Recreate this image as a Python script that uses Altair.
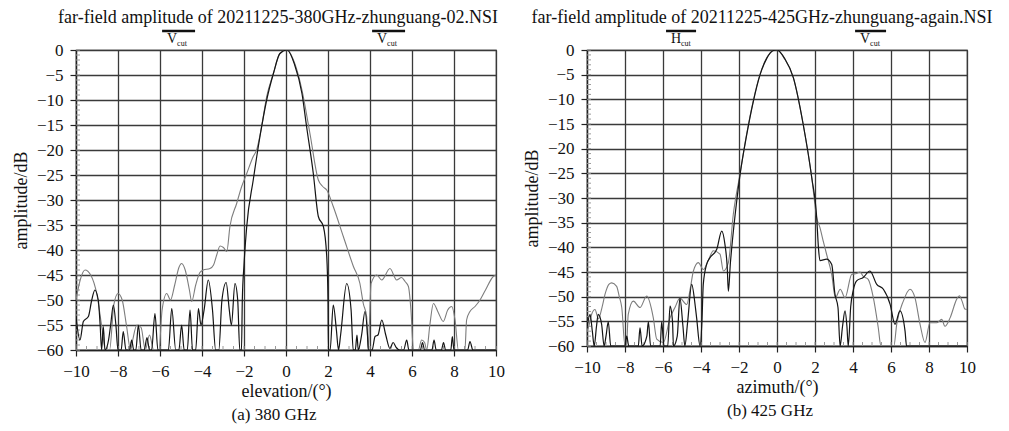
import altair as alt
import pandas as pd

FONT = "Liberation Serif"

# ---------------- panel (a) 380 GHz ----------------
a_gray_x = [-10.0, -9.8, -9.57, -9.3, -9.0, -8.75, -8.6, -8.4, -8.2, -8.0, -7.8, -7.6, -7.4,
            -7.3, -7.1, -6.9, -6.7, -6.5, -6.3, -6.05, -5.9, -5.68, -5.5, -5.3, -5.1, -4.97,
            -4.8, -4.6, -4.49, -4.3, -4.1, -3.94, -3.62, -3.45, -3.3, -3.14, -2.98, -2.82,
            -2.67, -2.35, -2.11, -1.87, -1.56, -1.4, -1.16, -0.92, -0.6, -0.29, 0.05, 0.4,
            0.76, 1.14, 1.54, 1.75, 1.94, 2.25, 2.73, 3.21, 3.52, 3.68, 3.84, 3.92, 3.97,
            4.05, 4.32, 4.56, 4.95, 5.27, 5.5, 5.67, 5.83, 5.95, 6.07, 6.3, 6.46, 6.6, 6.7,
            6.85, 7.02, 7.25, 7.49, 7.7, 7.89, 8.05, 8.21, 8.52, 8.6, 8.76, 9.0, 9.24, 9.5,
            9.87, 10.0]
a_gray_y = [-50, -46, -44, -45, -49, -56, -60, -60, -51, -48.7, -50, -55, -60,
            -58, -55, -55.5, -60, -57, -60, -60, -52, -48.7, -50, -47, -43.5, -42.7,
            -44, -48, -50.3, -47, -44.5, -44, -43.7, -43, -41, -39.2, -39.5, -40.3,
            -35.3, -30.7, -27.3, -24.7, -21.3, -20, -15.3, -9.3, -4.7, -0.7, 0, -2.5,
            -8, -16.7, -26, -27.3, -28, -31.3, -37.3, -43.3, -46.7, -50.7, -53.3, -60, -55,
            -46.7, -45, -46, -43.7, -46, -45.5, -46.3, -47.3, -52, -60, -60, -58, -58.5, -60,
            -55, -50.7, -52.5, -54.3, -52, -51.3, -54, -60, -60, -54, -52.3, -51.3, -50, -48,
            -45.3, -45]

a_black_x = [-10.0, -9.81, -9.65, -9.41, -9.25, -9.1, -8.94, -8.85, -8.78, -8.7, -8.62, -8.45,
             -8.35, -8.22, -8.1, -8.0, -7.85, -7.75, -7.62, -7.45, -7.35, -7.25, -7.15, -7.03,
             -6.9, -6.75, -6.62, -6.5, -6.4, -6.24, -6.1, -5.6, -5.44, -5.25, -5.1, -4.97,
             -4.85, -4.7, -4.57, -4.45, -4.3, -4.17, -4.05, -3.9, -3.7, -3.5, -3.35, -3.2,
             -3.05, -2.85, -2.7, -2.6, -2.43, -2.3, -2.2, -2.12, -2.08, -2.0, -1.87, -1.56,
             -1.24, -0.92, -0.6, -0.29, 0.05, 0.4, 0.76, 0.98, 1.3, 1.54, 1.78, 1.94, 2.0,
             2.02, 2.1, 2.25, 2.4, 2.5, 2.6, 2.89, 3.1, 3.2, 3.3, 3.38, 3.44, 3.6, 3.76, 3.88,
             3.92, 4.1, 4.24, 4.38, 4.56, 4.75, 4.95, 5.1, 5.25, 5.4, 5.6, 5.75, 5.85, 6.4,
             6.5, 6.6, 6.95, 7.05, 7.15, 7.4, 7.5, 7.6, 7.85, 7.92, 8.0, 8.65, 8.76, 8.9, 10.0]
a_black_y = [-53.3, -58, -54.3, -53.3, -50, -48, -50, -55, -60, -55.3, -60, -58,
             -55, -51, -55, -60, -60, -56.3, -60, -60, -58, -60, -60, -55,
             -60, -60, -57.5, -60, -60, -52.7, -60, -60, -51.7, -60, -60, -55,
             -60, -60, -52, -60, -60, -51.7, -55, -52, -46, -52, -60, -60,
             -50, -46.5, -52, -55, -46.7, -50, -60, -60, -50, -43, -35.3, -26,
             -17.3, -10, -4.7, -0.7, 0, -2.8, -8.7, -15.3, -24.7, -33.3, -35.3, -41.3, -50,
             -60, -60, -51, -56, -60, -57, -46.7, -52, -60, -60, -57, -60, -57, -52.3, -57,
             -60, -60, -57.3, -57, -54, -57, -59.7, -58.5, -59.5, -60, -60, -58, -60, -60,
             -58.5, -60, -60, -58, -60, -60, -58.5, -60, -60, -57.3, -60, -60, -58.3, -60, -60]

# ---------------- panel (b) 425 GHz ----------------
b_gray_x = [-10.0, -9.93, -9.75, -9.58, -9.4, -9.2, -9.05, -8.85, -8.7, -8.44, -8.3, -8.17,
            -8.0, -7.92, -7.83, -7.56, -7.21, -6.86, -6.51, -6.33, -5.98, -5.63, -5.37, -5.11,
            -4.75, -4.55, -4.4, -4.14, -3.88, -3.61, -3.35, -3.0, -2.82, -2.56, -2.3, -1.95,
            -1.6, -1.25, -0.89, -0.54, -0.19, 0.0, 0.4, 0.86, 1.38, 1.83, 2.09, 2.26, 2.45,
            2.61, 2.88, 3.07, 3.33, 3.58, 3.93, 4.19, 4.37, 4.54, 4.8, 5.07, 5.33, 5.47, 6.15,
            6.3, 6.65, 7.0, 7.26, 7.53, 7.79, 8.05, 8.4, 8.67, 8.84, 9.11, 9.46, 9.6, 9.75,
            9.89, 10.0]
b_gray_y = [-57, -56.3, -53.5, -52.6, -54.5, -52, -49.5, -47.5, -47.2, -47.9, -50, -52.2,
            -60, -60, -53.6, -50.9, -52.2, -49.9, -54.3, -58.6, -59.3, -54.3, -52.2, -50.3,
            -51.6, -48, -44.8, -43.1, -44.5, -42.6, -40.7, -41.4, -44.8, -43.1, -33.3, -25.2,
            -17.1, -10.3, -4.9, -1.6, -0.1, 0, -1.8, -5.6, -15.1, -25.9, -34, -36, -39,
            -41.4, -45.5, -50.2, -48.5, -50.2, -45.5, -45.3, -45, -45.9, -46.5, -50.2, -56.3, -60, -60,
            -55.6, -50.9, -48.5, -50.2, -55.6, -59.3, -55.3, -55.3, -54.6, -56, -54.3, -50.5, -49.8, -51,
            -52.5, -52.6]

b_black_x = [-10.0, -9.84, -9.72, -9.62, -9.5, -9.41, -9.23, -9.1, -9.0, -8.88, -8.75, -8.0,
             -7.91, -7.8, -7.3, -7.21, -7.1, -6.85, -6.77, -6.65, -6.15, -6.07, -5.95, -5.75,
             -5.63, -5.5, -5.45, -5.25, -5.11, -4.95, -4.85, -4.7, -4.49, -4.3, -4.23, -4.05,
             -3.95, -3.88, -3.7, -3.53, -3.17, -2.91, -2.74, -2.62, -2.56, -2.45, -2.39, -2.12,
             -1.95, -1.6, -1.25, -0.89, -0.54, -0.19, 0.0, 0.4, 0.86, 1.38, 1.83, 2.09, 2.18,
             2.26, 2.61, 2.88, 3.05, 3.21, 3.32, 3.45, 3.58, 3.68, 3.75, 3.88, 4.02, 4.19, 4.54,
             4.89, 5.25, 5.6, 5.95, 6.21, 6.47, 6.74, 6.82, 10.0]
b_black_y = [-56.3, -53.6, -57, -60, -56, -53.6, -55.6, -60, -58, -55.1, -60, -60,
             -58, -60, -60, -56.3, -60, -58, -55.1, -60, -60, -55.1, -60, -60,
             -51.9, -55, -60, -58, -50.3, -56, -60, -55, -47.5, -52, -54.3, -60,
             -55, -47.5, -43.4, -42.1, -40.4, -36.7, -39.4, -44, -48.9, -43, -40.4, -30.6,
             -25.4, -17.3, -10.5, -5.0, -1.7, -0.1, 0, -1.7, -5.6, -15.1, -25.9, -34, -40,
             -42.7, -42.4, -43.5, -49.5, -52.2, -60, -56, -52.9, -56, -60, -52, -48.6, -46.8, -46.1,
             -44.8, -47.5, -48.5, -51.5, -55.6, -52.9, -57, -60, -60]

# ---------------- texts ----------------
titles = ["far-field amplitude of 20211225-380GHz-zhunguang-02.NSI",
          "far-field amplitude of 20211225-425GHz-zhunguang-again.NSI"]
x_titles = ["elevation/(°)", "azimuth/(°)"]
captions = ["(a) 380 GHz", "(b) 425 GHz"]
cut_letters = [["V", "V"], ["H", "V"]]
cut_start = [[-5.9, 4.1], [-5.84, 4.11]]
cut_end = [[-4.33, 5.67], [-4.26, 5.74]]
x_ticks = [-10, -8, -6, -4, -2, 0, 2, 4, 6, 8, 10]
y_ticks = [0, -5, -10, -15, -20, -25, -30, -35, -40, -45, -50, -55, -60]
minor_x = [v / 2 for v in range(-20, 21)]
minor_y = list(range(-60, 1))


def panel(gx, gy, bx, by, idx, w, h, title_dx, cap_dx):
    xs = alt.Scale(domain=[-10, 10], nice=False, zero=False)
    ys = alt.Scale(domain=[-60, 0], nice=False, zero=False)
    xax = alt.Axis(values=x_ticks, title=x_titles[idx], grid=True, format="d",
                   tickSize=6, labelPadding=7, titlePadding=3,
                   labelFlush=False, labelOverlap=False)
    yax = alt.Axis(values=y_ticks, title="amplitude/dB", grid=True, format="d",
                   tickSize=6, labelPadding=7, titlePadding=6,
                   labelFlush=False, labelOverlap=False)

    def X(field):
        return alt.X(field, scale=xs, axis=xax)

    def Y(field):
        return alt.Y(field, scale=ys, axis=yax)

    grid_base = alt.Chart(pd.DataFrame({"x": [-10, 10], "y": [-60, 0]})).mark_point(opacity=0).encode(
        x=X("x:Q"), y=Y("y:Q"))

    mx = alt.Chart(pd.DataFrame({"x": minor_x})).mark_rule(color="#9a9a9a", strokeWidth=1).encode(
        x=X("x:Q"), y=alt.value(h), y2=alt.value(h - 4))
    my = alt.Chart(pd.DataFrame({"y": minor_y})).mark_rule(color="#9a9a9a", strokeWidth=1).encode(
        y=Y("y:Q"), x=alt.value(0), x2=alt.value(4))

    gray = alt.Chart(pd.DataFrame({"x": gx, "y": gy})).mark_line(
        clip=True, color="#7d7d7d", strokeWidth=1.1, interpolate="monotone").encode(
        x=X("x:Q"), y=Y("y:Q"), order="x:Q")
    black = alt.Chart(pd.DataFrame({"x": bx, "y": by})).mark_line(
        clip=True, color="#141414", strokeWidth=1.2, interpolate="monotone").encode(
        x=X("x:Q"), y=Y("y:Q"), order="x:Q")

    cut_df = pd.DataFrame({"x": cut_start[idx], "e": cut_end[idx], "L": cut_letters[idx],
                           "sub": ["cut", "cut"]})
    cut_rule = alt.Chart(cut_df).mark_rule(color="#111", strokeWidth=2.5).encode(
        x=X("x:Q"), x2="e:Q", y=alt.value(-19))
    cut_L = alt.Chart(cut_df).mark_text(font=FONT, fontSize=14, align="left",
                                        baseline="alphabetic", dx=5, color="#111").encode(
        x=X("x:Q"), y=alt.value(-7), text="L:N")
    cut_sub = alt.Chart(cut_df).mark_text(font=FONT, fontSize=8, align="left",
                                          baseline="alphabetic", dx=15, color="#111").encode(
        x=X("x:Q"), y=alt.value(-4), text="sub:N")

    ttl = alt.Chart(pd.DataFrame({"t": [titles[idx]]})).mark_text(
        font=FONT, fontSize=18, baseline="alphabetic", align="center", color="#111").encode(
        x=alt.value(w / 2 + title_dx), y=alt.value(-27), text="t:N")
    cap = alt.Chart(pd.DataFrame({"t": [captions[idx]]})).mark_text(
        font=FONT, fontSize=17, baseline="middle", align="center", color="#111").encode(
        x=alt.value(w / 2 + cap_dx), y=alt.value(h + 65), text="t:N")

    return alt.layer(grid_base, mx, my, gray, black, cut_rule, cut_L, cut_sub, ttl, cap).properties(
        width=w, height=h)


left = panel(a_gray_x, a_gray_y, a_black_x, a_black_y, 0, 420, 300, -8, -12)
right = panel(b_gray_x, b_gray_y, b_black_x, b_black_y, 1, 380, 296, -15, -7)

chart = alt.hconcat(left, right, spacing=91, bounds="flush").properties(
    padding={"left": 3, "top": 0, "right": 5, "bottom": 0},
    background="white"
).configure_view(stroke="#333", strokeWidth=1.2).configure_axis(
    labelFont=FONT, titleFont=FONT, labelFontSize=17, titleFontSize=18,
    labelColor="#111", titleColor="#111", titleFontWeight="normal",
    gridColor="#3a3a3a", gridWidth=1.3, gridOpacity=1,
    domainColor="#222", domainWidth=1.3, tickColor="#222", tickWidth=1.2
)

chart.save("out.html", embed_options={"renderer": "svg", "actions": False})
